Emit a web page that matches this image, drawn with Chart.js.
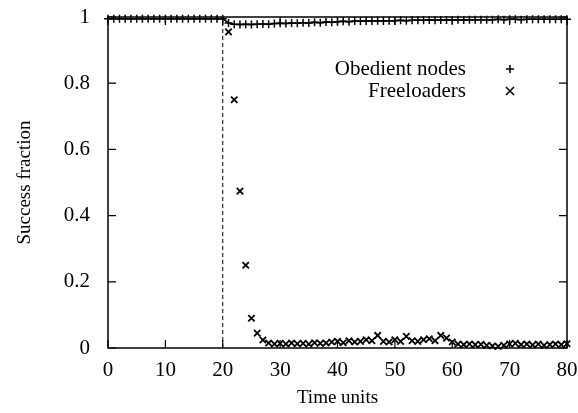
<!DOCTYPE html>
<html>
<head>
<meta charset="utf-8">
<script src="https://cdn.jsdelivr.net/npm/chart.js@4"></script>
<style>
  html, body { margin: 0; padding: 0; background: #fff; }
  #wrap { width: 578px; height: 413px; }
</style>
</head>
<body>
<div id="wrap"><canvas id="chart" width="578" height="413"></canvas></div>
<script>
// time axis
const obedientTimes = Array.from({ length: 81 }, (_, i) => i);
const obedientValues = [
  0.995, 0.995, 0.995, 0.995, 0.995, 0.995, 0.995, 0.995, 0.995, 0.995,
  0.995, 0.995, 0.995, 0.995, 0.995, 0.995, 0.995, 0.995, 0.995, 0.995,
  0.995, 0.982, 0.978, 0.977, 0.978, 0.977, 0.978, 0.979, 0.978, 0.980,
  0.981, 0.980, 0.982, 0.981, 0.983, 0.982, 0.984, 0.983, 0.985, 0.984,
  0.986, 0.987, 0.986, 0.988, 0.987, 0.988, 0.988, 0.989, 0.988, 0.989,
  0.989, 0.990, 0.989, 0.990, 0.990, 0.990, 0.991, 0.990, 0.991, 0.991,
  0.991, 0.992, 0.991, 0.992, 0.992, 0.992, 0.992, 0.992, 0.993, 0.992,
  0.993, 0.993, 0.992, 0.993, 0.993, 0.993, 0.993, 0.993, 0.993, 0.993,
  0.993
];
const freeloaderTimes = Array.from({ length: 60 }, (_, i) => i + 21);
const freeloaderValues = [
  0.955, 0.750, 0.474, 0.250, 0.090, 0.045, 0.024, 0.015, 0.012, 0.014,
  0.012, 0.015, 0.013, 0.014, 0.012, 0.016, 0.014, 0.015, 0.018, 0.020,
  0.016, 0.022, 0.018, 0.020, 0.025, 0.022, 0.038, 0.020, 0.018, 0.025,
  0.020, 0.035, 0.022, 0.020, 0.025, 0.028, 0.022, 0.038, 0.030, 0.018,
  0.012, 0.010, 0.012, 0.010, 0.011, 0.008, 0.006, 0.005, 0.008, 0.012,
  0.014, 0.010, 0.012, 0.009, 0.012, 0.008, 0.010, 0.012, 0.010, 0.013
];
const cutoffTime = 20;
const cutoffRange = [0, 1];
const xTicks = [0, 10, 20, 30, 40, 50, 60, 70, 80];
const yTicks = [0, 0.2, 0.4, 0.6, 0.8, 1];

const FONT = 'Liberation Serif';

// gnuplot-style frame with inward ticks on all four sides
const framePlugin = {
  id: 'frame',
  afterDraw(chart) {
    const { ctx, chartArea: a, scales } = chart;
    ctx.save();
    ctx.strokeStyle = '#000';
    ctx.lineWidth = 1.5;
    ctx.strokeRect(a.left, a.top, a.right - a.left, a.bottom - a.top);
    ctx.lineWidth = 1.2;
    ctx.beginPath();
    xTicks.forEach(v => {
      const px = scales.x.getPixelForValue(v);
      ctx.moveTo(px, a.bottom); ctx.lineTo(px, a.bottom - 8);
      ctx.moveTo(px, a.top); ctx.lineTo(px, a.top + 8);
    });
    yTicks.forEach(v => {
      const py = scales.y.getPixelForValue(v);
      ctx.moveTo(a.left, py); ctx.lineTo(a.left + 8, py);
      ctx.moveTo(a.right, py); ctx.lineTo(a.right - 8, py);
    });
    ctx.stroke();

    // key, text right-aligned with the marker on its right
    const items = [chart.data.datasets[0], chart.data.datasets[1]];
    ctx.font = '21px "' + FONT + '"';
    ctx.fillStyle = '#000';
    ctx.textAlign = 'right';
    ctx.textBaseline = 'middle';
    items.forEach((ds, i) => {
      const y = 69 + i * 22;
      ctx.fillText(ds.label, 466, y);
      ctx.beginPath();
      ctx.lineWidth = 1.6;
      const mx = 510, r = 4;
      if (ds.pointStyle === 'cross') {
        ctx.moveTo(mx - r, y); ctx.lineTo(mx + r, y);
        ctx.moveTo(mx, y - r); ctx.lineTo(mx, y + r);
      } else {
        ctx.moveTo(mx - r, y - r); ctx.lineTo(mx + r, y + r);
        ctx.moveTo(mx - r, y + r); ctx.lineTo(mx + r, y - r);
      }
      ctx.stroke();
    });
    ctx.restore();
  }
};

new Chart(document.getElementById('chart'), {
  type: 'scatter',
  data: {
    datasets: [
      {
        label: 'Obedient nodes',
        data: obedientTimes.map((t, i) => ({ x: t, y: obedientValues[i] })),
        pointStyle: 'cross',
        radius: 4,
        borderColor: '#000',
        borderWidth: 1.5,
        showLine: true,
        clip: false
      },
      {
        label: 'Freeloaders',
        data: freeloaderTimes.map((t, i) => ({ x: t, y: freeloaderValues[i] })),
        pointStyle: 'crossRot',
        radius: 4.5,
        borderColor: '#000',
        borderWidth: 1.8,
        clip: false
      },
      {
        label: 'cutoff',
        data: cutoffRange.map(v => ({ x: cutoffTime, y: v })),
        showLine: true,
        borderColor: '#000',
        borderWidth: 1,
        borderDash: [4, 3],
        pointRadius: 0
      }
    ]
  },
  options: {
    responsive: false,
    animation: false,
    layout: { padding: { top: 17, right: 11, left: 0, bottom: 0 } },
    plugins: {
      legend: { display: false },
      tooltip: { enabled: false }
    },
    scales: {
      x: {
        type: 'linear',
        min: 0,
        max: 80,
        afterBuildTicks: s => { s.ticks = xTicks.map(v => ({ value: v })); },
        afterFit: s => { s.height = 65; s.paddingLeft = 0; s.paddingRight = 0; },
        grid: { display: false },
        border: { display: false },
        ticks: { color: '#000', font: { family: FONT, size: 21 }, padding: 2 },
        title: {
          display: true,
          text: 'Time units',
          color: '#000',
          font: { family: FONT, size: 19 },
          padding: { top: 0 }
        }
      },
      y: {
        min: 0,
        max: 1,
        afterBuildTicks: s => { s.ticks = yTicks.map(v => ({ value: v })); },
        afterFit: s => { s.width = 108; s.paddingTop = 0; s.paddingBottom = 0; },
        grid: { display: false },
        border: { display: false },
        ticks: {
          color: '#000',
          font: { family: FONT, size: 21 },
          padding: 10,
          callback: v => String(v)
        },
        title: {
          display: true,
          text: 'Success fraction',
          color: '#000',
          font: { family: FONT, size: 19 },
          padding: { top: 14, bottom: 4 }
        }
      }
    }
  },
  plugins: [framePlugin]
});
</script>
</body>
</html>
